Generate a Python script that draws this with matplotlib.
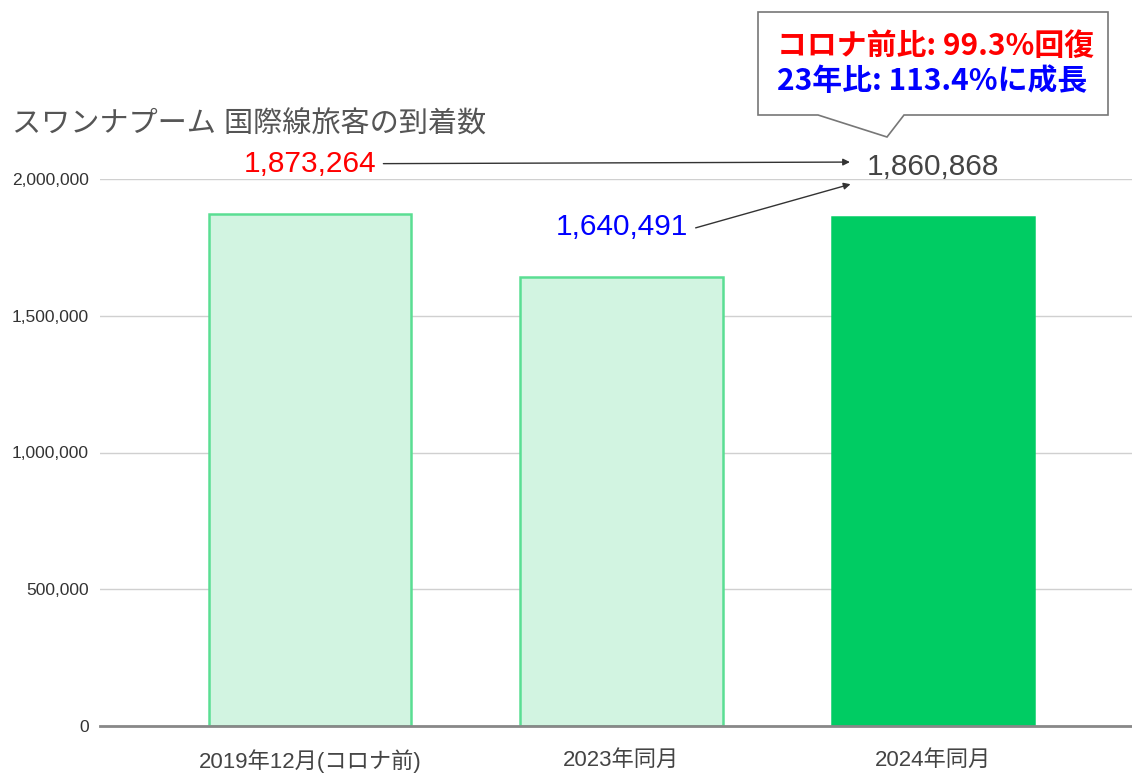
import matplotlib
matplotlib.use("Agg")
import matplotlib.pyplot as plt
from matplotlib.patches import Polygon

plt.rcParams['font.family'] = ['Liberation Sans', 'Noto Sans CJK JP']

# data
categories = ["2019年12月(コロナ前)", "2023年同月", "2024年同月"]
arrivals = [1873264, 1640491, 1860868]
bar_colors = ["#d2f4e1", "#d2f4e1", "#00cc63"]
edge_colors = ["#5ade93", "#5ade93", "#00cc63"]
label_colors = ["#ff0000", "#0000ff", "#444444"]
yticks = [0, 500000, 1000000, 1500000, 2000000]
title = "スワンナプーム 国際線旅客の到着数"
note_lines = ["コロナ前比: 99.3%回復", "23年比: 113.4%に成長"]
note_colors = ["#ff0000", "#0000ff"]

W, H = 1132, 776
fig = plt.figure(figsize=(W / 100, H / 100), dpi=100)
ax = fig.add_axes([100 / W, 1 - 726 / H, 1 - 100 / W, (726 - 179) / H])

x = range(len(categories))
ax.bar(x, arrivals, width=0.65, color=bar_colors, edgecolor=edge_colors,
       linewidth=1.8, zorder=3)

ax.set_xlim(-0.675, 2.64)
ax.set_ylim(0, 2000000)
ax.set_yticks(yticks)
ax.set_yticklabels(["{:,}".format(v) for v in yticks], fontsize=12.5, color="#333333")
ax.set_xticks(list(x))
ax.set_xticklabels(categories, fontsize=16, color="#444444")
ax.tick_params(axis="y", length=0, pad=8)
ax.tick_params(axis="x", length=0, pad=17)
ax.grid(axis="y", color="#d0d0d0", linewidth=1, zorder=0)
for s in ["top", "right", "left"]:
    ax.spines[s].set_visible(False)
ax.spines["bottom"].set_color("#888888")
ax.spines["bottom"].set_linewidth(2)
ax.spines["bottom"].set_zorder(4)

# value labels above bars
labels = []
for i, v in enumerate(arrivals):
    t = ax.annotate("{:,}".format(v), xy=(i, v), xytext=(0, 36),
                    textcoords="offset points", ha="center", va="center",
                    fontsize=21.5, color=label_colors[i], annotation_clip=False)
    labels.append(t)

arrow = dict(arrowstyle="-|>", color="#333333", lw=1.0, mutation_scale=10)
ax.annotate("", xy=(0, 0.68), xycoords=labels[2], xytext=(1, 0.5),
            textcoords=labels[0], arrowprops=dict(arrow, shrinkA=5, shrinkB=12))
ax.annotate("", xy=(0, 0.05), xycoords=labels[2], xytext=(1, 0.4),
            textcoords=labels[1], arrowprops=dict(arrow, shrinkA=6, shrinkB=12))

fig.text(12 / W, 1 - 125 / H, title, fontsize=21, color="#555555",
         va="center", ha="left")

# callout box
pts = [(758, 12), (1108, 12), (1108, 115), (904, 115), (887, 137), (818, 115), (758, 115)]
poly = Polygon([(px / W, 1 - py / H) for px, py in pts], closed=True,
               transform=fig.transFigure, facecolor="white", edgecolor="#777777",
               linewidth=1.2)
fig.patches.append(poly)
for k, (line, c) in enumerate(zip(note_lines, note_colors)):
    fig.text(777 / W, 1 - (46 + 35 * k) / H, line, fontsize=21.5, color=c,
             fontweight="bold", family="Noto Sans CJK JP", va="center", ha="left")

fig.savefig("out.png", dpi=100)
